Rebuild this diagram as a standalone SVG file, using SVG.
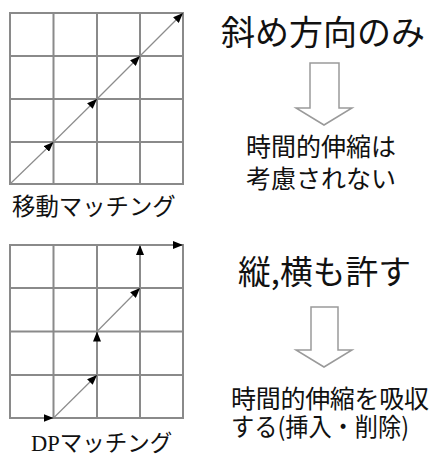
<svg xmlns="http://www.w3.org/2000/svg" width="435" height="454" viewBox="0 0 435 454">
  <style>
    .grid { fill: none; stroke: #8a8a8a; stroke-width: 2; }
    .path { fill: none; stroke: #8c8c8c; stroke-width: 1.2; }
    .blk { fill: #ffffff; stroke: #9a9a9a; stroke-width: 1.5; stroke-linejoin: miter; }
    .jp { font-family: "Noto Sans CJK JP", "Noto Sans", sans-serif; fill: #111; }
    .dp { font-family: "Liberation Serif", "Noto Sans CJK JP", serif; fill: #111; }
  </style>
  <defs>
    <marker id="ah" viewBox="0 0 10 8" refX="10" refY="4" markerWidth="10" markerHeight="8" markerUnits="userSpaceOnUse" orient="auto">
      <path d="M0,0 L10,4 L0,8 Z" fill="#000"/>
    </marker>
  </defs>

  <g id="grid-top">
    <rect class="grid" x="10" y="13" width="173" height="171"/>
    <path class="grid" d="M53.5,13 V184 M97,13 V184 M140,13 V184 M10,56 H183 M10,99 H183 M10,142 H183"/>
  </g>
  <g id="grid-bottom">
    <rect class="grid" x="10" y="245" width="173" height="173"/>
    <path class="grid" d="M53.5,245 V418 M97,245 V418 M140,245 V418 M10,288 H183 M10,331.5 H183 M10,375 H183"/>
  </g>

  <g id="connectors">
    <path class="path" marker-end="url(#ah)" d="M10,184 L53.5,142"/>
    <path class="path" marker-end="url(#ah)" d="M53.5,142 L97,99"/>
    <path class="path" marker-end="url(#ah)" d="M97,99 L140,56"/>
    <path class="path" marker-end="url(#ah)" d="M140,56 L183,13"/>

    <path class="path" marker-end="url(#ah)" d="M10,418 L53.5,418"/>
    <path class="path" marker-end="url(#ah)" d="M53.5,418 L97,375"/>
    <path class="path" marker-end="url(#ah)" d="M97,375 L97,331.5"/>
    <path class="path" marker-end="url(#ah)" d="M97,331.5 L140,288"/>
    <path class="path" marker-end="url(#ah)" d="M140,288 L140,245"/>
    <path class="path" marker-end="url(#ah)" d="M140,245 L183,245"/>

    <path id="arrow-top" class="blk" d="M310,63 H339 V108 H352 L324,125 L296,108 H310 Z"/>
    <path id="arrow-bottom" class="blk" d="M311,307 H338 V350 H352 L324,367 L296,350 H311 Z"/>
  </g>

  <g id="label-top-grid"><text class="jp" x="12" y="215" font-size="23.4">移動マッチング</text></g>
  <g id="label-bottom-grid"><text class="dp" x="31" y="451" font-size="22.5">DPマッチング</text></g>

  <g id="title-top"><text class="jp" x="221" y="45" font-size="34" textLength="204">斜め方向のみ</text></g>
  <g id="note-top">
    <text class="jp" x="246" y="156" font-size="25">時間的伸縮は</text>
    <text class="jp" x="246" y="188" font-size="25">考慮されない</text>
  </g>

  <g id="title-bottom"><text class="jp" x="238" y="284" font-size="33" textLength="173" lengthAdjust="spacingAndGlyphs">縦,横も許す</text></g>
  <g id="note-bottom">
    <text class="jp" x="231" y="408" font-size="25" textLength="198">時間的伸縮を吸収</text>
    <text class="jp" x="231" y="436" font-size="25" textLength="178" lengthAdjust="spacingAndGlyphs">する(挿入・削除)</text>
  </g>
</svg>
